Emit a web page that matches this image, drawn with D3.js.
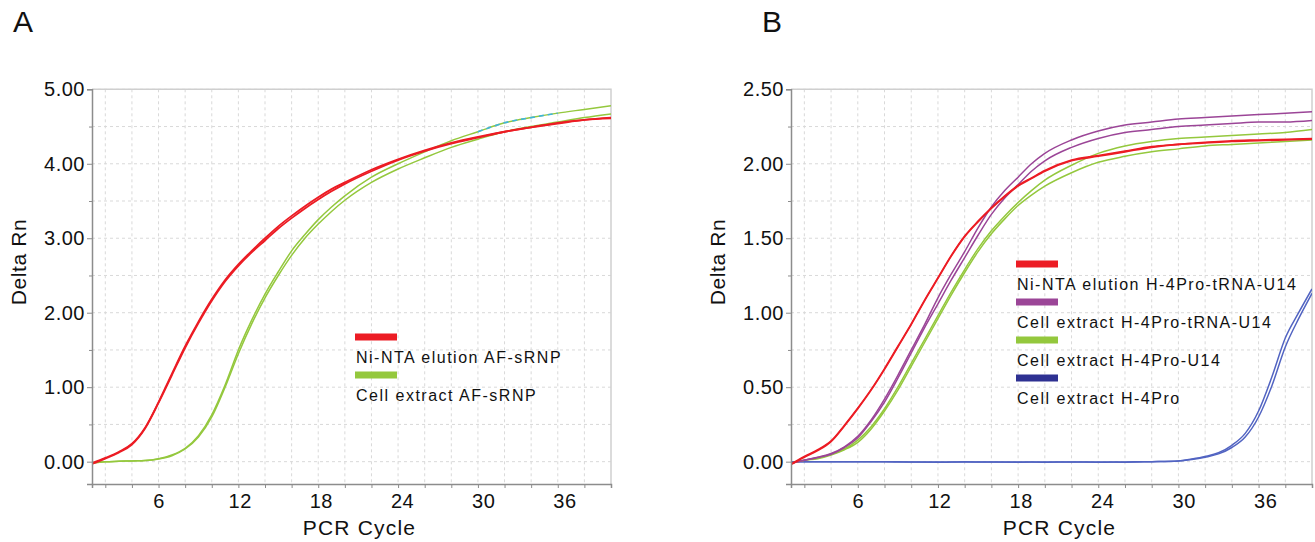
<!DOCTYPE html>
<html>
<head>
<meta charset="utf-8">
<script src="https://cdn.jsdelivr.net/npm/d3@7"></script>
<style>
  body { margin: 0; background: #fff; }
  svg { display: block; font-family: "Liberation Sans", Arial, sans-serif; }
  .grid line { stroke: #d9d9d9; stroke-dasharray: 3,3; }
  .axis path, .axis line { stroke: #8c8c8c; }
  .axis text { fill: #111; font-size: 20px; letter-spacing: 0.5px; }
</style>
</head>
<body>
<svg id="chart" width="1315" height="542"></svg>
<script>
// panel A: AF-sRNP
const cyclesA = [1,2,3,4,5,6,7,8,9,10,11,12,13,14,15,16,17,18,19,20,22,24,26,28,30,32,34,36,38,40];
const aRed1 = [-0.03,0.04,0.12,0.23,0.45,0.79,1.16,1.53,1.86,2.16,2.42,2.63,2.81,2.97,3.13,3.27,3.40,3.52,3.63,3.73,3.90,4.05,4.17,4.27,4.35,4.43,4.49,4.54,4.59,4.62];
const aRed2 = [-0.02,0.05,0.13,0.24,0.46,0.80,1.18,1.55,1.88,2.18,2.44,2.65,2.83,3.00,3.16,3.30,3.43,3.55,3.66,3.75,3.92,4.06,4.18,4.28,4.36,4.43,4.49,4.55,4.59,4.61];
const aGreen1 = [-0.01,0.0,0.005,0.01,0.015,0.04,0.09,0.18,0.35,0.63,1.03,1.50,1.90,2.25,2.55,2.83,3.05,3.25,3.42,3.57,3.82,4.00,4.16,4.31,4.43,4.55,4.62,4.68,4.73,4.78];
const aGreen2 = [-0.02,0.0,0.005,0.01,0.015,0.035,0.08,0.17,0.33,0.60,1.00,1.45,1.85,2.20,2.50,2.77,3.00,3.19,3.36,3.51,3.75,3.93,4.08,4.22,4.33,4.43,4.50,4.56,4.62,4.67];
const aCyanCycles = [30, 35]; // dashed overlay on the top green trace

// panel B: H-4Pro
const cyclesB = [1,2,3,4,5,6,7,8,9,10,11,12,13,14,15,16,17,18,19,20,22,24,26,28,30,32,34,36,38,40];
const bRed1 = [-0.02,0.03,0.075,0.135,0.24,0.355,0.48,0.62,0.77,0.92,1.08,1.23,1.38,1.51,1.61,1.70,1.78,1.85,1.90,1.95,2.02,2.05,2.08,2.11,2.13,2.14,2.15,2.155,2.16,2.165];
const bRed2 = [-0.015,0.035,0.08,0.14,0.245,0.36,0.485,0.625,0.775,0.925,1.085,1.235,1.385,1.515,1.615,1.705,1.785,1.855,1.905,1.955,2.025,2.055,2.085,2.115,2.13,2.145,2.155,2.16,2.165,2.17];
const bPurple1 = [-0.01,0.01,0.03,0.055,0.10,0.17,0.28,0.42,0.58,0.75,0.92,1.10,1.26,1.41,1.57,1.71,1.82,1.91,2.00,2.07,2.16,2.22,2.26,2.28,2.30,2.31,2.32,2.33,2.34,2.35];
const bPurple2 = [-0.01,0.01,0.028,0.05,0.095,0.16,0.27,0.40,0.56,0.73,0.90,1.06,1.22,1.37,1.52,1.66,1.77,1.86,1.95,2.02,2.11,2.17,2.21,2.23,2.25,2.26,2.27,2.28,2.28,2.29];
const bGreen1 = [-0.01,0.01,0.025,0.05,0.085,0.145,0.235,0.355,0.50,0.66,0.82,0.98,1.14,1.29,1.43,1.55,1.65,1.74,1.82,1.89,1.99,2.07,2.12,2.15,2.17,2.18,2.19,2.20,2.21,2.23];
const bGreen2 = [-0.01,0.01,0.02,0.045,0.08,0.13,0.22,0.34,0.48,0.64,0.80,0.96,1.12,1.27,1.41,1.53,1.63,1.72,1.79,1.85,1.94,2.01,2.05,2.08,2.10,2.12,2.13,2.14,2.15,2.16];
const blueCycles = [1,3,5,8,10,12,14,16,18,20,22,24,26,28,30,31,32,33,34,35,36,37,38,39,40];
const bBlue1 = [0,0,0,0,-0.003,-0.004,0,-0.003,-0.004,-0.002,-0.003,-0.002,-0.004,0,0.005,0.018,0.035,0.06,0.11,0.19,0.34,0.57,0.83,1.00,1.16];
const bBlue2 = [0,0,0,0,-0.002,-0.002,-0.003,-0.002,-0.002,-0.004,-0.002,-0.004,-0.002,0,0.004,0.014,0.03,0.052,0.095,0.165,0.30,0.51,0.77,0.96,1.13];

// labels and ticks
const xTicks = [6,12,18,24,30,36];
const yTicksA = [0,1,2,3,4,5];
const yTicksB = [0,0.5,1,1.5,2,2.5];
const legendA = ["Ni-NTA elution AF-sRNP", "Cell extract AF-sRNP"];
const legendB = ["Ni-NTA elution H-4Pro-tRNA-U14", "Cell extract H-4Pro-tRNA-U14", "Cell extract H-4Pro-U14", "Cell extract H-4Pro"];

const RED = "#ec1c24", GREEN = "#94c83d", PURPLE = "#9b4597", NAVY = "#2e3192", BLUE = "#5264c2", CYAN = "#3fb4dc";

const svg = d3.select("#chart");

function zip(xs, ys) { return xs.map((x, i) => ({c: x, v: ys[i]})); }

function drawPanel(o) {
  const g = svg.append("g");
  const x = d3.scaleLinear().domain([1, 40]).range([o.left, o.right]);
  const y = d3.scaleLinear().domain(o.yDomain).range([484, 89.3]);

  // grid
  const grid = g.append("g").attr("class", "grid");
  grid.selectAll(".gv").data(d3.range(2, 40, 2)).join("line")
    .attr("x1", d => x(d)).attr("x2", d => x(d)).attr("y1", y.range()[1]).attr("y2", y.range()[0]);
  grid.selectAll(".gh").data(o.yGrid).join("line")
    .attr("y1", d => y(d)).attr("y2", d => y(d)).attr("x1", o.left).attr("x2", o.right);

  // frame top/right
  g.append("path")
    .attr("d", `M${o.left},${y.range()[1]}H${o.right}V${y.range()[0]}`)
    .attr("fill", "none").attr("stroke", "#cfcfcf").attr("stroke-width", 1.5);

  // lines
  const clipId = "clip" + o.name;
  g.append("clipPath").attr("id", clipId).append("rect")
    .attr("x", o.left).attr("y", y.range()[1]).attr("width", o.right - o.left).attr("height", y.range()[0] - y.range()[1]);
  const line = d3.line().x(d => x(d.c)).y(d => y(d.v)).curve(d3.curveMonotoneX);
  const lines = g.append("g").attr("clip-path", `url(#${clipId})`);
  o.series.forEach(s => {
    lines.append("path").datum(zip(s.cycles, s.values))
      .attr("fill", "none").attr("stroke", s.color).attr("stroke-width", s.width || 1.5)
      .attr("stroke-dasharray", s.dash || null)
      .attr("d", line);
  });

  // axes
  const yAxis = d3.axisLeft(y).tickValues(o.yTicks).tickFormat(d3.format(".2f")).tickSize(5).tickPadding(2);
  const yMinor = d3.axisLeft(y).tickValues(o.yMinor).tickFormat("").tickSize(3);
  const xAxis = d3.axisBottom(x).tickValues(d3.range(2, 41, 2)).tickFormat(d => xTicks.includes(d) ? d : "").tickSize(4).tickPadding(6);
  g.append("g").attr("class", "axis").attr("transform", `translate(${o.left},0)`).call(yMinor)
    .call(a => a.select(".domain").remove());
  const ya = g.append("g").attr("class", "axis").attr("transform", `translate(${o.left},0)`).call(yAxis);
  ya.select(".domain").attr("stroke-width", 1.5);
  const xa = g.append("g").attr("class", "axis").attr("transform", `translate(0,${y.range()[0]})`).call(xAxis);
  xa.select(".domain").attr("stroke-width", 1.5);
  xa.selectAll(".tick text").attr("dx", d => (d - 6) * 0.22);

  // axis titles
  svg.append("text").attr("x", (o.left + o.right) / 2 + 8).attr("y", 535)
    .attr("text-anchor", "middle").attr("font-size", 21).attr("letter-spacing", 1.2).attr("fill", "#111")
    .text("PCR Cycle");
  svg.append("text").attr("transform", `translate(${o.left - 66},262) rotate(-90)`)
    .attr("text-anchor", "middle").attr("font-size", 21).attr("letter-spacing", 0.6).attr("fill", "#111")
    .text("Delta Rn");
  svg.append("text").attr("x", o.letterX).attr("y", 32).attr("font-size", 30).attr("fill", "#111").text(o.name);

  // legend
  const lg = g.append("g").attr("transform", `translate(${o.legendX},${o.legendY})`);
  o.legend.forEach((t, i) => {
    lg.append("rect").attr("x", 0).attr("y", i * o.legendStep - 3.5).attr("width", 42).attr("height", 7).attr("fill", o.legendColors[i]);
    lg.append("text").attr("x", 1).attr("y", i * o.legendStep + 26).attr("font-size", 16).attr("letter-spacing", 1.5)
      .attr("fill", "#111").text(t);
  });
}

drawPanel({
  name: "A", letterX: 13, left: 92, right: 611, yDomain: [-0.3, 5],
  yTicks: yTicksA, yMinor: [0.5,1.5,2.5,3.5,4.5], yGrid: d3.range(0, 5.01, 0.5),
  series: [
    {cycles: cyclesA, values: aGreen2, color: GREEN},
    {cycles: cyclesA, values: aGreen1, color: GREEN},
    {cycles: cyclesA, values: aRed2, color: RED, width: 1.8},
    {cycles: cyclesA, values: aRed1, color: RED, width: 1.8},
    {cycles: cyclesA.filter(c => c >= aCyanCycles[0] && c <= aCyanCycles[1] + 1),
     values: aGreen1.filter((v, i) => cyclesA[i] >= aCyanCycles[0] && cyclesA[i] <= aCyanCycles[1] + 1),
     color: CYAN, dash: "5,4", width: 1.6}
  ],
  legend: legendA, legendColors: [RED, GREEN], legendX: 355, legendY: 337, legendStep: 38
});

drawPanel({
  name: "B", letterX: 762, left: 791, right: 1312, yDomain: [-0.15, 2.5],
  yTicks: yTicksB, yMinor: [0.25,0.75,1.25,1.75,2.25], yGrid: d3.range(0, 2.51, 0.25),
  series: [
    {cycles: blueCycles, values: bBlue2, color: BLUE},
    {cycles: blueCycles, values: bBlue1, color: BLUE},
    {cycles: cyclesB, values: bGreen2, color: GREEN},
    {cycles: cyclesB, values: bGreen1, color: GREEN},
    {cycles: cyclesB, values: bPurple2, color: PURPLE},
    {cycles: cyclesB, values: bPurple1, color: PURPLE},
    {cycles: cyclesB, values: bRed2, color: RED, width: 1.6},
    {cycles: cyclesB, values: bRed1, color: RED, width: 1.6}
  ],
  legend: legendB, legendColors: [RED, PURPLE, GREEN, NAVY], legendX: 1016, legendY: 264, legendStep: 38
});
</script>
</body>
</html>
